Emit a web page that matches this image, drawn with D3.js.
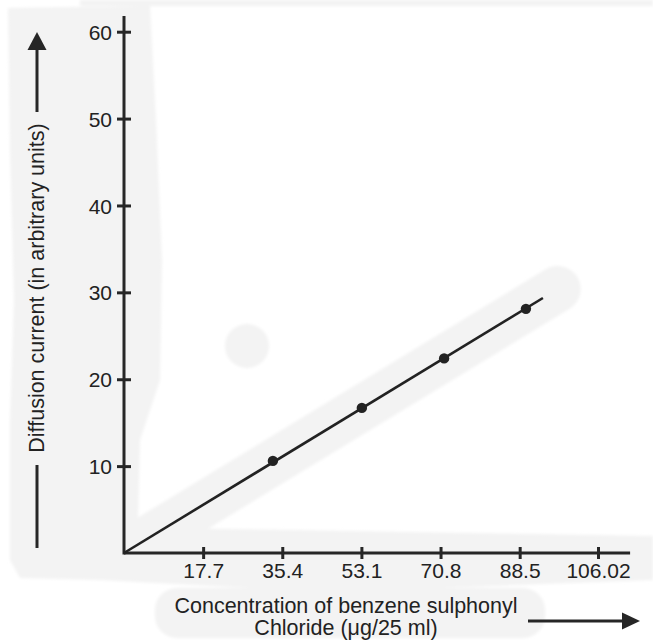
<!DOCTYPE html>
<html>
<head>
<meta charset="utf-8">
<script src="https://cdn.jsdelivr.net/npm/d3@7/dist/d3.min.js"></script>
<style>
  html, body { margin: 0; padding: 0; background: #ffffff; }
  svg { display: block; }
  text { font-family: "Liberation Sans", Arial, Helvetica, sans-serif; fill: #222; }
</style>
</head>
<body>
<svg id="chart" width="653" height="642"></svg>
<script>
// Concentration of benzene sulphonyl chloride (µg/25 ml) vs diffusion current
const concentration = [33.3, 53.2, 71.6, 89.9];
const diffusionCurrent = [10.6, 16.7, 22.4, 28.1];

const xTickValues = [17.7, 35.4, 53.1, 70.8, 88.5, 106.02];
const xTickLabels = ["17.7", "35.4", "53.1", "70.8", "88.5", "106.02"];
const yTickValues = [10, 20, 30, 40, 50, 60];
const yTickLabels = ["10", "20", "30", "40", "50", "60"];

const xAxisTitle = ["Concentration of benzene sulphonyl", "Chloride (\u03BCg/25 ml)"];
const yAxisTitle = "Diffusion current (in arbitrary units)";

// axis and calibration-line extents, in data units
const xAxisEnd = 113.2;
const yAxisEnd = 61.8;
const fitLineEnd = 93.7;

const svg = d3.select("#chart");
const ink = "#262626";

const x = d3.scaleLinear().domain([0, 106.02]).range([124, 598]);
const y = d3.scaleLinear().domain([0, 60]).range([553, 31.7]);

// least-squares line through the origin
const slope = d3.sum(concentration, (c, i) => c * diffusionCurrent[i]) /
              d3.sum(concentration, c => c * c);

// soft grey wash behind the figure
const defs = svg.append("defs");
defs.append("filter").attr("id", "soft")
  .append("feGaussianBlur").attr("stdDeviation", 1.5);
const wash = svg.append("g").attr("fill", "#f3f3f3").attr("stroke", "none")
  .attr("filter", "url(#soft)");

wash.append("path").attr("d",
  "M8,8 L150,6 L156,120 L162,260 L160,380 L140,440 L138,520 L170,528 L653,536 L653,580 " +
  "L330,592 L100,580 L20,578 L10,560 L10,420 L14,300 L10,150 Z");
wash.append("path").attr("d", "M80,0 L653,0 L653,6 L80,6 Z");
wash.append("rect").attr("x", 155).attr("y", 588).attr("width", 390).attr("height", 50).attr("rx", 22);
wash.append("line")
  .attr("x1", x(6)).attr("y1", y(6 * slope))
  .attr("x2", x(97)).attr("y2", y(97 * slope))
  .attr("stroke", "#f3f3f3").attr("stroke-width", 46).attr("stroke-linecap", "round");
wash.append("circle").attr("cx", 247).attr("cy", 346).attr("r", 22);

// main axis lines
svg.append("line")
  .attr("x1", x(0)).attr("y1", y(0)).attr("x2", x(xAxisEnd)).attr("y2", y(0))
  .attr("stroke", ink).attr("stroke-width", 3);
svg.append("line")
  .attr("x1", x(0)).attr("y1", y(0) + 1.5).attr("x2", x(0)).attr("y2", y(yAxisEnd))
  .attr("stroke", ink).attr("stroke-width", 3);

// x ticks cross the axis
const gx = svg.append("g").attr("transform", `translate(0,${y(0)})`)
  .call(d3.axisBottom(x).tickValues(xTickValues)
    .tickFormat((d, i) => xTickLabels[i]).tickSize(6));
gx.select(".domain").remove();
gx.selectAll(".tick line").attr("y1", -6).attr("y2", 6)
  .attr("stroke", ink).attr("stroke-width", 3);
gx.selectAll(".tick text")
  .attr("y", 25).attr("dy", 0)
  .style("font-size", "21px").style("font-family", "'Liberation Sans', Arial, sans-serif")
  .attr("fill", "#222");

// y ticks cross the axis
const gy = svg.append("g").attr("transform", `translate(${x(0)},0)`)
  .call(d3.axisLeft(y).tickValues(yTickValues)
    .tickFormat((d, i) => yTickLabels[i]).tickSize(7));
gy.select(".domain").remove();
gy.selectAll(".tick line").attr("x1", 7).attr("x2", -7)
  .attr("stroke", ink).attr("stroke-width", 3);
gy.selectAll(".tick text")
  .attr("x", -12).attr("dy", "0.36em")
  .style("font-size", "21px").style("font-family", "'Liberation Sans', Arial, sans-serif")
  .attr("fill", "#222");

// fitted calibration line
const fit = d3.line().x(d => x(d)).y(d => y(d * slope));
svg.append("path")
  .datum([0, fitLineEnd])
  .attr("d", fit)
  .attr("fill", "none").attr("stroke", "#222").attr("stroke-width", 2.6);

// measured points
svg.append("g").selectAll("circle")
  .data(concentration)
  .join("circle")
  .attr("cx", d => x(d))
  .attr("cy", (d, i) => y(diffusionCurrent[i]))
  .attr("r", 5.2)
  .attr("fill", "#222");

// x-axis title with arrow
svg.append("g").selectAll("text")
  .data(xAxisTitle)
  .join("text")
  .attr("x", 346)
  .attr("y", (d, i) => 613 + i * 22)
  .attr("text-anchor", "middle")
  .style("font-size", "21.5px")
  .text(d => d);

svg.append("line").attr("x1", 528).attr("y1", 621).attr("x2", 626).attr("y2", 621)
  .attr("stroke", ink).attr("stroke-width", 3);
svg.append("path").attr("d", "M622,612.5 L640,621 L622,629.5 Z").attr("fill", ink);

// y-axis title with arrow
svg.append("text")
  .attr("transform", "translate(44,288) rotate(-90)")
  .attr("text-anchor", "middle")
  .style("font-size", "21.5px")
  .text(yAxisTitle);

svg.append("line").attr("x1", 37).attr("y1", 548).attr("x2", 37).attr("y2", 465)
  .attr("stroke", ink).attr("stroke-width", 3);
svg.append("line").attr("x1", 37).attr("y1", 112).attr("x2", 37).attr("y2", 48)
  .attr("stroke", ink).attr("stroke-width", 3);
svg.append("path").attr("d", "M27.5,50 L37,32 L46.5,50 Z").attr("fill", ink);
</script>
</body>
</html>
